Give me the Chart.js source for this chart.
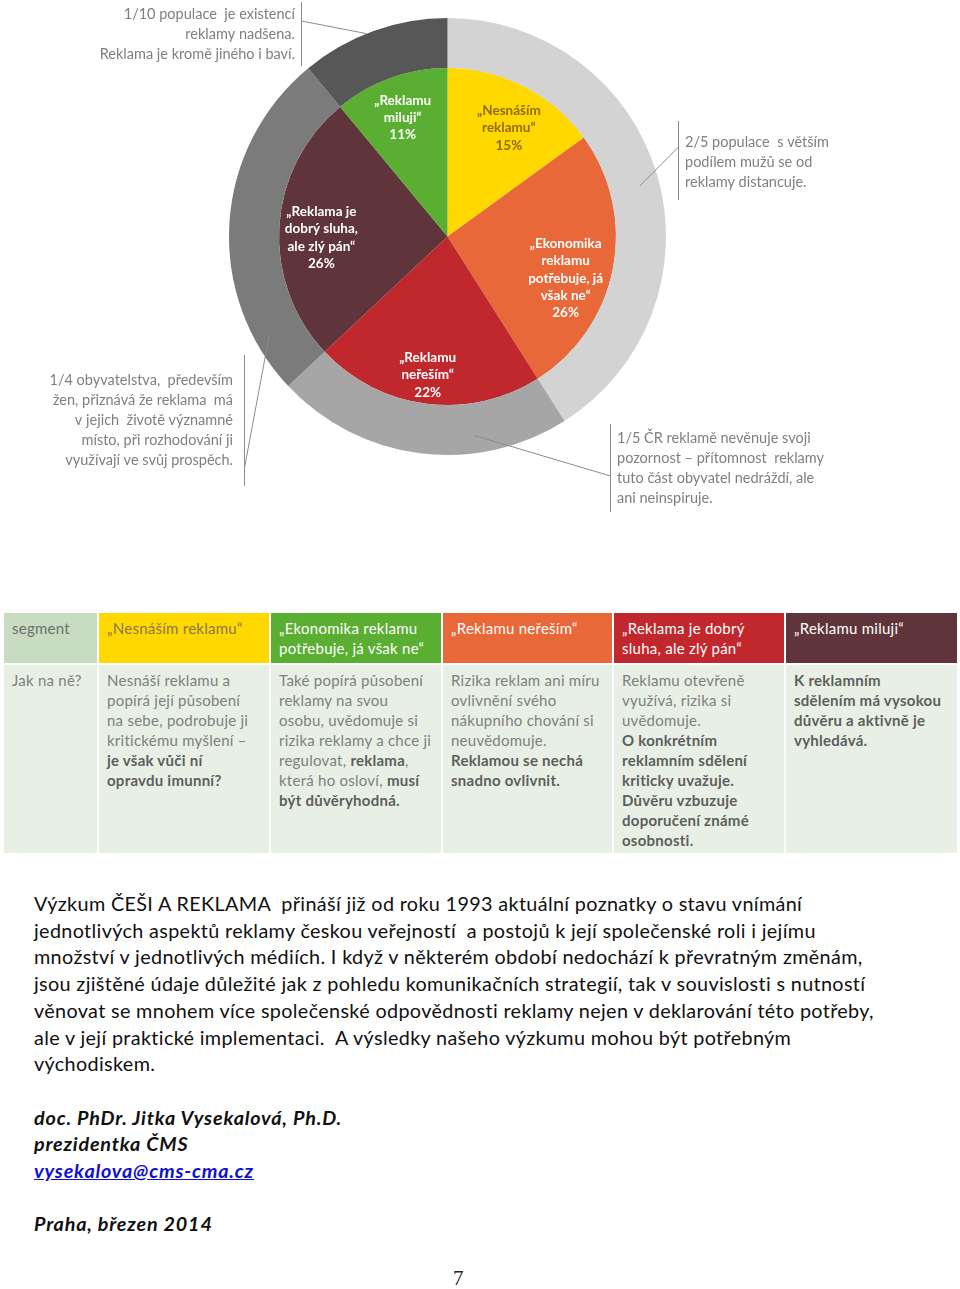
<!DOCTYPE html>
<html>
<head>
<meta charset="utf-8">
<script src="https://cdn.jsdelivr.net/npm/chart.js@4"></script>
<style>
body{margin:0;background:#fff;width:960px;height:1289px;position:relative;overflow:hidden;font-family:Lato,"Open Sans",sans-serif}
#wrap{position:absolute;left:0;top:0;width:960px;height:560px}
table{position:absolute;left:4px;top:613px;border-collapse:separate;border-spacing:2px 0;margin-left:-2px}
td{vertical-align:top;white-space:nowrap;font-size:15px;letter-spacing:0.25px;line-height:20px;padding:5px 0 0 8px;color:#7f7f7f}
tr.h td{height:45px}
tr.b td{height:183px;background:#e8f0e5;border-top:2px solid #fff}
td b{color:#5e5e5e}
#txt{position:absolute;left:34px;top:890px;font-size:19.8px;letter-spacing:0.35px;line-height:26.7px;color:#111;white-space:pre}
#sig{font-weight:bold;font-style:italic;letter-spacing:0.8px}
#sig a{color:#1010d0}
#pg{position:absolute;left:453px;top:1266px;font-family:"Liberation Serif",serif;font-size:21px;color:#222}
</style>
</head>
<body>
<div id="wrap"><canvas id="pie" width="960" height="560"></canvas></div>

<table>
<tr class="h">
<td style="width:85px;background:#c7dcc1;color:#6f6f6f">segment</td>
<td style="width:162px;background:#ffd800;color:#8a7650">„Nesnáším reklamu“</td>
<td style="width:162px;background:#5aae32;color:#fff">„Ekonomika reklamu<br>potřebuje, já však ne“</td>
<td style="width:161px;background:#e8683a;color:#fff">„Reklamu neřeším“</td>
<td style="width:162px;background:#c0282d;color:#fff">„Reklama je dobrý<br>sluha, ale zlý pán“</td>
<td style="width:163px;background:#5f353b;color:#fff">„Reklamu miluji“</td>
</tr>
<tr class="b">
<td>Jak na ně?</td>
<td>Nesnáší reklamu a<br>popírá její působení<br>na sebe, podrobuje ji<br>kritickému myšlení –<br><b>je však vůči ní<br>opravdu imunní?</b></td>
<td>Také popírá působení<br>reklamy na svou<br>osobu, uvědomuje si<br>rizika reklamy a chce ji<br>regulovat, <b>reklama</b>,<br>která ho osloví, <b>musí<br>být důvěryhodná.</b></td>
<td>Rizika reklam ani míru<br>ovlivnění svého<br>nákupního chování si<br>neuvědomuje.<br><b>Reklamou se nechá<br>snadno ovlivnit.</b></td>
<td>Reklamu otevřeně<br>využívá, rizika si<br>uvědomuje.<br><b> O konkrétním<br>reklamním sdělení<br>kriticky uvažuje.<br>Důvěru vzbuzuje<br>doporučení známé<br>osobnosti.</b></td>
<td><b>K reklamním<br>sdělením má vysokou<br>důvěru a aktivně je<br>vyhledává.</b></td>
</tr>
</table>

<div id="txt">Výzkum ČEŠI A REKLAMA  přináší již od roku 1993 aktuální poznatky o stavu vnímání
jednotlivých aspektů reklamy českou veřejností  a postojů k její společenské roli i jejímu
množství v jednotlivých médiích. I když v některém období nedochází k převratným změnám,
jsou zjištěné údaje důležité jak z pohledu komunikačních strategií, tak v souvislosti s nutností
věnovat se mnohem více společenské odpovědnosti reklamy nejen v deklarování této potřeby,
ale v její praktické implementaci.  A výsledky našeho výzkumu mohou být potřebným
východiskem.

<span id="sig">doc. PhDr. Jitka Vysekalová, Ph.D.
prezidentka ČMS
<a href="#">vysekalova@cms-cma.cz</a>

Praha, březen 2014</span></div>
<div id="pg">7</div>

<script>
// vnitřní koláč – segmenty
const segments = ["Nesnáším reklamu", "Ekonomika reklamu potřebuje, já však ne", "Reklamu neřeším", "Reklama je dobrý sluha, ale zlý pán", "Reklamu miluji"]
const shares = [15, 26, 22, 26, 11]
const pieLabels = [
  ["„Nesnáším", "reklamu“"],
  ["„Ekonomika", "reklamu", "potřebuje, já", "však ne“"],
  ["„Reklamu", "neřeším“"],
  ["„Reklama je", "dobrý sluha,", "ale zlý pán“"],
  ["„Reklamu", "miluji“"]
]

// vnější prstenec – skupiny populace
const groups = ["2/5 populace", "1/5 ČR", "1/4 obyvatelstva", "1/10 populace"]
const groupShares = [41, 22, 26, 11]
const groupNotes = [
  ["2/5 populace  s větším", "podílem mužů se od", "reklamy distancuje."],
  ["1/5 ČR reklamě nevěnuje svoji", "pozornost – přítomnost  reklamy", "tuto část obyvatel nedráždí, ale", "ani neinspiruje."],
  ["1/4 obyvatelstva,  především", "žen, přiznává že reklama  má", "v jejich  životě významné", "místo, při rozhodování ji", "využívají ve svůj prospěch."],
  ["1/10 populace  je existencí", "reklamy nadšena.", "Reklama je kromě jiného i baví."]
]

const pieColors = ["#ffd800", "#e8683a", "#c0282d", "#5f353b", "#5aae32"]
const pieTextColors = ["#8f6b12", "#fff", "#fff", "#fff", "#fff"]
const labelNudge = [[4,4], [-6,18], [-4,13], [0,9], [-2,0]]
const ringColors = ["#d3d3d3", "#a6a6a6", "#7b7b7b", "#575757"]

// rozmístění popisků (text, svislá čára, cíl na prstenci)
const noteLayout = [
  {x:685, y:142, align:"left",  barX:678, bar:[121,200], from:147, frac:0.51, r:0.91},
  {x:617, y:438, align:"left",  barX:610, bar:[424,512], from:476, frac:0.31, r:0.92},
  {x:233, y:380, align:"right", barX:244, bar:[355,486], from:468, frac:0.15, r:0.935},
  {x:295, y:14,  align:"right", barX:301, bar:[2,66],    from:21,  frac:0.45, r:1.0}
]

const notesPlugin = {
  id:"notes",
  afterDatasetsDraw(chart){
    const c = chart.ctx
    // procenta a názvy ve výsečích
    const inner = chart.getDatasetMeta(1)
    inner.data.forEach((arc,i)=>{
      const p = arc.getProps(["x","y","startAngle","endAngle","outerRadius"],true)
      const mid = (p.startAngle+p.endAngle)/2
      const r = p.outerRadius*0.75
      const cx = p.x+Math.cos(mid)*r+labelNudge[i][0], cy = p.y+Math.sin(mid)*r+labelNudge[i][1]
      const lines = pieLabels[i].concat([shares[i]+"%"])
      c.save()
      c.font = "bold 13.5px Lato"
      c.fillStyle = pieTextColors[i]
      c.textAlign = "center"
      c.textBaseline = "middle"
      lines.forEach((t,k)=>c.fillText(t, cx, cy+(k-(lines.length-1)/2)*17.3))
      c.restore()
    })
    // poznámky k prstenci
    const outer = chart.getDatasetMeta(0)
    outer.data.forEach((arc,i)=>{
      const L = noteLayout[i]
      const p = arc.getProps(["x","y","startAngle","endAngle","outerRadius"],true)
      const a = p.startAngle+(p.endAngle-p.startAngle)*L.frac
      const tx = p.x+Math.cos(a)*p.outerRadius*L.r, ty = p.y+Math.sin(a)*p.outerRadius*L.r
      c.save()
      c.strokeStyle = "#8c8c8c"
      c.lineWidth = 1
      c.beginPath()
      c.moveTo(L.barX+0.5, L.bar[0]); c.lineTo(L.barX+0.5, L.bar[1])
      c.moveTo(L.barX+0.5, L.from); c.lineTo(tx, ty)
      c.stroke()
      c.font = "14.5px Lato"
      c.fillStyle = "#7f7f7f"
      c.textAlign = L.align
      c.textBaseline = "middle"
      groupNotes[i].forEach((t,k)=>c.fillText(t, L.x, L.y+k*20))
      c.restore()
    })
  }
}

new Chart(document.getElementById("pie"),{
  type:"doughnut",
  data:{
    labels:segments,
    datasets:[
      {label:"skupiny", data:groupShares, backgroundColor:ringColors, weight:50},
      {label:"segmenty", data:shares, backgroundColor:pieColors, weight:168.5}
    ]
  },
  options:{
    responsive:false,
    animation:false,
    cutout:0,
    borderWidth:0,
    hoverOffset:0,
    layout:{padding:{left:229, right:294, top:18, bottom:105}},
    plugins:{legend:{display:false}, tooltip:{enabled:false}}
  },
  plugins:[notesPlugin]
})
</script>
</body>
</html>
